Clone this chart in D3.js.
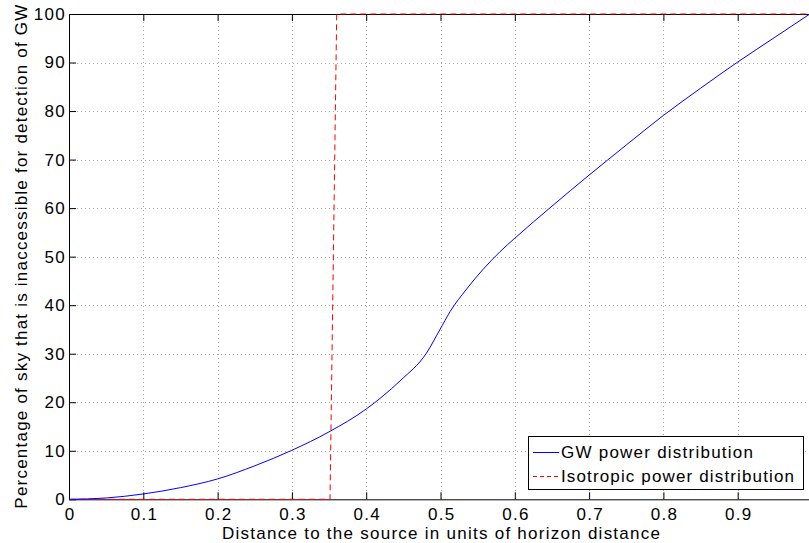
<!DOCTYPE html>
<html>
<head>
<meta charset="utf-8">
<script src="https://cdn.jsdelivr.net/npm/d3@7"></script>
<style>
  html, body { margin: 0; padding: 0; background: #fff; }
  svg { display: block; font-family: "Liberation Sans", Arial, Helvetica, sans-serif; }
</style>
</head>
<body>
<svg id="chart" width="809" height="543"></svg>
<script>
// Distance in units of horizon distance
const gwDistance = [0, 0.05, 0.1, 0.15, 0.2, 0.25, 0.3, 0.35, 0.4, 0.4455, 0.481, 0.499, 0.513, 0.535, 0.58, 0.6, 0.65, 0.7, 0.75, 0.8, 0.85, 0.9, 0.95, 1.0];
// Percentage of sky inaccessible, GW power distribution
const gwPercent = [0, 0.27, 1.1, 2.4, 4.2, 6.9, 10.1, 13.9, 18.6, 24.4, 30.1, 34.9, 38.7, 43.3, 51.0, 53.8, 60.4, 66.8, 73.0, 79.1, 84.7, 90.1, 95.2, 100.3];

// Isotropic power distribution: a near-step at about 0.355
const isoDistance = [0, 0.3513, 0.3603, 1.0];
const isoPercent = [0, 0, 100, 100];

const xTicks = [0, 0.1, 0.2, 0.3, 0.4, 0.5, 0.6, 0.7, 0.8, 0.9];
const yTicks = [0, 10, 20, 30, 40, 50, 60, 70, 80, 90, 100];

const legendLabels = ["GW power distribution", "Isotropic power distribution"];

const svg = d3.select("#chart");
const plotLeft = 69, plotRight = 812, plotTop = 14, plotBottom = 499.3;

const x = d3.scaleLinear().domain([0, 1]).range([plotLeft, plotRight]);
const y = d3.scaleLinear().domain([0, 100]).range([plotBottom, plotTop]);

// dotted grid
const grid = svg.append("g").attr("stroke", "#a8a8a8").attr("stroke-width", 1).attr("stroke-dasharray", "1,3");
grid.selectAll("line.gx").data(xTicks.filter(d => d > 0)).join("line")
  .attr("x1", d => Math.round(x(d)) + 0.5).attr("x2", d => Math.round(x(d)) + 0.5)
  .attr("y1", plotTop).attr("y2", plotBottom);
grid.selectAll("line.gy").data(yTicks.filter(d => d > 0 && d < 100)).join("line")
  .attr("y1", d => Math.round(y(d)) + 0.5).attr("y2", d => Math.round(y(d)) + 0.5)
  .attr("x1", plotLeft).attr("x2", plotRight);

// axes
const fontSize = 17;
const xAxis = d3.axisBottom(x).tickValues(xTicks).tickFormat(d => d === 0 ? "0" : d3.format(".1f")(d))
  .tickSizeInner(-7).tickSizeOuter(0).tickPadding(9);
const gx = svg.append("g").attr("transform", `translate(0,${plotBottom})`).call(xAxis);
gx.select(".domain").attr("stroke", "#000");
gx.selectAll("text").attr("font-size", fontSize).attr("fill", "#000")
  .attr("font-family", "Liberation Sans, Arial, sans-serif").attr("letter-spacing", 1.3).attr("dx", 0.65);

const xTop = d3.axisTop(x).tickValues(xTicks).tickFormat("").tickSizeInner(-7).tickSizeOuter(0);
svg.append("g").attr("transform", `translate(0,${plotTop})`).call(xTop);

const yAxis = d3.axisLeft(y).tickValues(yTicks).tickSizeInner(-7).tickSizeOuter(0).tickPadding(3);
const gy = svg.append("g").attr("transform", `translate(${plotLeft},0)`).call(yAxis);
gy.selectAll("text").attr("font-size", fontSize).attr("fill", "#000")
  .attr("font-family", "Liberation Sans, Arial, sans-serif").attr("letter-spacing", 1.3);

// series
const lineGen = d3.line().x(d => x(d[0])).y(d => y(d[1]));
const gwLine = d3.line().x(d => x(d[0])).y(d => y(d[1])).curve(d3.curveMonotoneX);

svg.append("path")
  .datum(isoDistance.map((d, i) => [d, isoPercent[i]]))
  .attr("d", lineGen).attr("fill", "none").attr("stroke", "#ff0000").attr("stroke-width", 1)
  .attr("stroke-dasharray", "6,4");

svg.append("path")
  .datum(gwDistance.map((d, i) => [d, gwPercent[i]]))
  .attr("d", gwLine).attr("fill", "none").attr("stroke", "#0000ff").attr("stroke-width", 1);

// axis labels
svg.append("text").attr("x", 441).attr("y", 539).attr("text-anchor", "middle")
  .attr("font-size", fontSize).attr("fill", "#000")
  .attr("textLength", 438).attr("lengthAdjust", "spacing")
  .text("Distance to the source in units of horizon distance");
svg.append("text").attr("transform", `translate(27,${(plotTop + plotBottom) / 2}) rotate(-90)`)
  .attr("text-anchor", "middle").attr("font-size", fontSize).attr("fill", "#000")
  .attr("textLength", 504).attr("lengthAdjust", "spacing")
  .text("Percentage of sky that is inaccessible for detection of GW");

// legend
const lg = svg.append("g");
lg.append("rect").attr("x", 528.5).attr("y", 436.5).attr("width", 275).attr("height", 53)
  .attr("fill", "#fff").attr("stroke", "#000").attr("stroke-width", 1);
const legendStyles = [{ color: "#0000ff", dash: null }, { color: "#ff0000", dash: "4,3" }];
const legendWidths = [192, 233];
legendLabels.forEach((lab, i) => {
  const cy = 452 + i * 24;
  lg.append("line").attr("x1", 533).attr("x2", 559).attr("y1", cy + 0.5).attr("y2", cy + 0.5)
    .attr("stroke", legendStyles[i].color).attr("stroke-width", 1)
    .attr("stroke-dasharray", legendStyles[i].dash);
  lg.append("text").attr("x", 561).attr("y", cy + 6).attr("font-size", fontSize).attr("fill", "#000")
    .attr("textLength", legendWidths[i]).attr("lengthAdjust", "spacing").text(lab);
});
</script>
</body>
</html>
